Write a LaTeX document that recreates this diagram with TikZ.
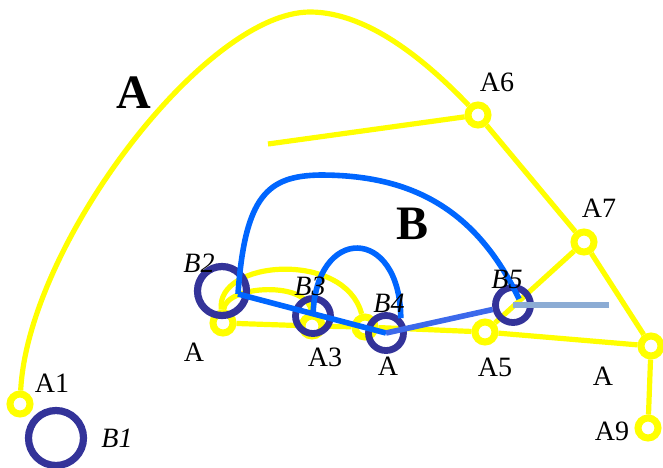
\documentclass[tikz,border=0pt]{standalone}
\usepackage{fontspec}
\setmainfont{Liberation Serif}
\usepackage{tikz}
\definecolor{ayel}{RGB}{255,255,0}
\definecolor{bnavy}{RGB}{51,51,153}
\definecolor{bblue}{RGB}{0,102,255}
\definecolor{bmid}{RGB}{60,105,235}
\definecolor{bpale}{RGB}{140,172,212}

\begin{document}
\begin{tikzpicture}[x=0.5pt,y=-0.5pt,
  yn/.style={draw=ayel, circle, line width=3.5pt, minimum size=10pt, inner sep=0pt},
  bn/.style={draw=bnavy, circle, line width=3.4pt, minimum size=17.5pt, inner sep=0pt},
  yl/.style={draw=ayel, line width=2.6pt},
  bl/.style={draw=bblue, line width=2.8pt},
  lab/.style={font=\fontsize{14}{16}\selectfont, inner sep=0pt},
  blab/.style={font=\fontsize{14}{16}\selectfont\itshape, inner sep=0pt},
  big/.style={font=\fontsize{24}{26}\selectfont\bfseries, inner sep=0pt},
]
\useasboundingbox (0,0) rectangle (663,467);
\node[yn] (A1) at (20,404) {};
\node[yn] (A2) at (223,323) {};
\node[yn] (A3) at (312,326) {};
\node[yn] (A4) at (365,327) {};
\node[yn] (A5) at (485,332) {};
\node[yn] (A6) at (478,115) {};
\node[yn] (A7) at (584,242) {};
\node[yn] (A8) at (651,346) {};
\node[yn] (A9) at (648,428) {};
\coordinate (Ystub) at (268,144);
\draw[yl] (A1) .. controls (28,245) and (205,12) .. (310,12)
  .. controls (370,12) and (430,65) .. (A6);
\draw[yl] (Ystub) -- (A6);
\draw[yl] (A6) -- (A7) -- (A8) -- (A9);
\draw[yl] (A7) -- (A5);
\draw[yl] (A8) -- (A5) -- (A4) -- (A3) -- (A2);
\draw[yl] (A2) .. controls (215,260) and (345,250) .. (A4);
\draw[yl] (A2) .. controls (225,285) and (310,280) .. (A3);
\node[bn, minimum size=27.5pt, line width=3.6pt] (B1) at (56,438) {};
\node[bn, minimum size=24.5pt, line width=3.6pt] (B2) at (222,291) {};
\node[bn] (B3) at (313,316) {};
\node[bn] (B4) at (386,333) {};
\node[bn] (B5) at (513,305) {};
\coordinate (Bend) at (609,305);
\draw[bl] ([xshift=8pt,yshift=-1.5pt]B2.center) -- (B4.center);
\draw[bl] ([xshift=8pt,yshift=-1.5pt]B2.center) .. controls (245,195) and (268,176) .. (320,175)
  .. controls (400,175) and (472,200) .. ([xshift=3pt,yshift=3pt]B5.center);
\draw[bl] (B3.center) .. controls (315,225) and (400,225) .. (B4.north east);
\draw[draw=bmid, line width=2.8pt] (B4.center) -- (B5);
\draw[draw=bpale, line width=3pt] (B5.center) -- (Bend);
\node[lab] (tA1) at (52,383) {A1};
\node[blab] (tB1) at (117,438) {B1};
\node[lab] (tA2) at (194,352) {A};
\node[lab] (tA3) at (325,357) {A3};
\node[lab] (tA4) at (388,366) {A};
\node[lab] (tA5) at (495,367) {A5};
\node[lab] (tA6) at (497,82) {A6};
\node[lab] (tA7) at (599,208) {A7};
\node[lab] (tA8) at (603,376) {A};
\node[lab] (tA9) at (612,431) {A9};
\node[blab] (tB2) at (199,263) {B2};
\node[blab] (tB3) at (310,286) {B3};
\node[blab] (tB4) at (389,303) {B4};
\node[blab] (tB5) at (507,279) {B5};
\node[big] (tA) at (134,93) {A};
\node[big] (tB) at (413,224) {B};
\end{tikzpicture}
\end{document}
